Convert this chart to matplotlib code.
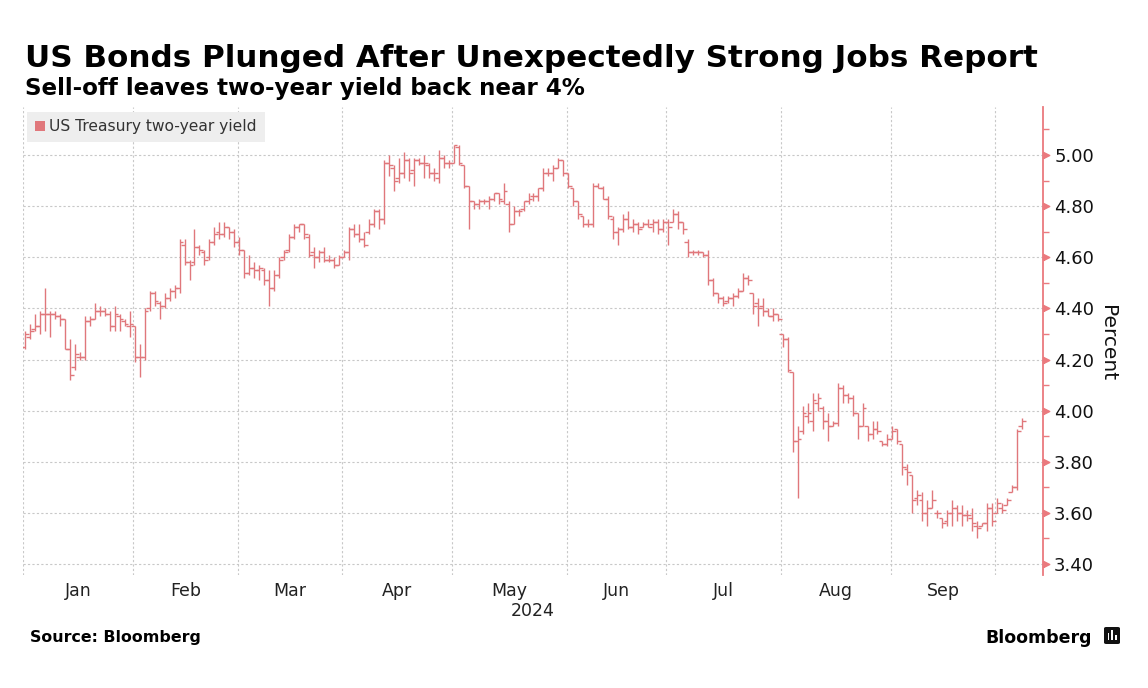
import numpy as np
import pandas as pd
import matplotlib
matplotlib.use('Agg')
import matplotlib.pyplot as plt
from matplotlib.patches import Rectangle, FancyBboxPatch

# weekday calendar, Jan 1 - Oct 7 2024 (one bar per weekday)
dates = pd.bdate_range('2024-01-01', '2024-10-07')

# OHLC of the US 2-year yield
opens = [
    4.25, 4.29, 4.32, 4.33, 4.38, 4.38, 4.38, 4.37, 4.36, 4.24, 4.17, 4.21, 4.21, 4.35, 4.36, 4.39, 4.39, 4.38, 4.33, 4.37, 4.35, 4.33, 4.33,  # jan
    4.21, 4.21, 4.40, 4.46, 4.42, 4.41, 4.44, 4.47, 4.48, 4.65, 4.58, 4.58, 4.64, 4.62, 4.60, 4.66, 4.70, 4.69, 4.72, 4.70, 4.66,  # feb
    4.63, 4.54, 4.56, 4.55, 4.55, 4.51, 4.48, 4.53, 4.60, 4.63, 4.68, 4.72, 4.73, 4.68, 4.62, 4.60, 4.62, 4.59, 4.59, 4.57, 4.60,  # mar
    4.62, 4.71, 4.69, 4.67, 4.70, 4.73, 4.78, 4.75, 4.97, 4.95, 4.91, 4.93, 4.98, 4.94, 4.98, 4.97, 4.96, 4.93, 4.91, 4.99, 4.97, 4.97,  # apr
    5.03, 4.96, 4.88, 4.82, 4.81, 4.82, 4.82, 4.83, 4.85, 4.82, 4.81, 4.73, 4.78, 4.79, 4.82, 4.84, 4.84, 4.87, 4.93, 4.93, 4.95, 4.98, 4.93,  # may
    4.87, 4.82, 4.76, 4.73, 4.73, 4.88, 4.87, 4.83, 4.75, 4.70, 4.71, 4.75, 4.72, 4.73, 4.72, 4.73, 4.73, 4.74, 4.71, 4.74,  # jun
    4.74, 4.77, 4.74, 4.66, 4.62, 4.62, 4.62, 4.61, 4.51, 4.46, 4.44, 4.43, 4.44, 4.45, 4.47, 4.52, 4.46, 4.42, 4.41, 4.39, 4.37, 4.38, 4.30,  # jul
    4.28, 4.15, 3.88, 3.92, 3.98, 3.96, 4.03, 4.01, 3.96, 3.94, 3.95, 4.09, 4.06, 4.05, 3.99, 3.94, 3.94, 3.91, 3.93, 3.88, 3.87, 3.89,  # aug
    3.93, 3.87, 3.77, 3.75, 3.66, 3.65, 3.60, 3.62, 3.60, 3.58, 3.57, 3.60, 3.62, 3.60, 3.59, 3.58, 3.55, 3.55, 3.56, 3.62, 3.60,  # sep
    3.62, 3.63, 3.68, 3.70, 3.94,  # oct
]
highs = [
    4.31, 4.34, 4.38, 4.39, 4.48, 4.39, 4.39, 4.38, 4.36, 4.28, 4.26, 4.23, 4.37, 4.37, 4.42, 4.41, 4.40, 4.39, 4.41, 4.38, 4.36, 4.39, 4.33,
    4.26, 4.40, 4.47, 4.47, 4.43, 4.46, 4.48, 4.49, 4.67, 4.67, 4.59, 4.71, 4.65, 4.63, 4.67, 4.72, 4.74, 4.74, 4.72, 4.71, 4.68,
    4.63, 4.61, 4.58, 4.57, 4.56, 4.55, 4.55, 4.60, 4.63, 4.69, 4.73, 4.73, 4.73, 4.69, 4.64, 4.63, 4.64, 4.61, 4.60, 4.61, 4.63,
    4.72, 4.73, 4.73, 4.70, 4.75, 4.79, 4.79, 4.98, 5.00, 4.96, 4.99, 5.01, 4.99, 4.99, 4.99, 5.00, 4.97, 4.95, 5.02, 5.00, 4.98, 5.04,
    5.04, 4.96, 4.88, 4.82, 4.83, 4.83, 4.84, 4.85, 4.85, 4.89, 4.82, 4.80, 4.79, 4.82, 4.85, 4.85, 4.87, 4.95, 4.95, 4.96, 4.99, 4.98, 4.93,
    4.87, 4.82, 4.76, 4.75, 4.89, 4.89, 4.88, 4.84, 4.76, 4.72, 4.77, 4.78, 4.75, 4.74, 4.74, 4.75, 4.75, 4.75, 4.75, 4.75,
    4.79, 4.78, 4.74, 4.67, 4.63, 4.63, 4.62, 4.63, 4.52, 4.46, 4.45, 4.45, 4.46, 4.48, 4.54, 4.53, 4.46, 4.44, 4.44, 4.40, 4.40, 4.38, 4.30,
    4.29, 4.15, 3.94, 4.02, 4.03, 4.07, 4.07, 4.02, 3.99, 3.96, 4.11, 4.10, 4.07, 4.06, 3.99, 4.03, 3.94, 3.96, 3.96, 3.88, 3.91, 3.94,
    3.93, 3.87, 3.79, 3.75, 3.69, 3.68, 3.65, 3.69, 3.61, 3.58, 3.61, 3.65, 3.63, 3.63, 3.61, 3.62, 3.57, 3.56, 3.64, 3.64, 3.66,
    3.64, 3.66, 3.71, 3.93, 3.97,
]
lows = [
    4.24, 4.28, 4.31, 4.30, 4.31, 4.29, 4.36, 4.33, 4.24, 4.12, 4.16, 4.20, 4.20, 4.33, 4.36, 4.37, 4.37, 4.31, 4.31, 4.31, 4.33, 4.29, 4.19,
    4.13, 4.20, 4.39, 4.41, 4.36, 4.40, 4.43, 4.44, 4.46, 4.57, 4.51, 4.57, 4.61, 4.57, 4.59, 4.65, 4.67, 4.68, 4.67, 4.64, 4.61,
    4.52, 4.53, 4.52, 4.51, 4.49, 4.41, 4.47, 4.52, 4.59, 4.62, 4.67, 4.70, 4.67, 4.60, 4.56, 4.58, 4.58, 4.58, 4.56, 4.57, 4.60,
    4.59, 4.68, 4.66, 4.64, 4.69, 4.72, 4.71, 4.73, 4.92, 4.86, 4.89, 4.91, 4.90, 4.88, 4.96, 4.91, 4.91, 4.90, 4.89, 4.95, 4.95, 4.97,
    4.96, 4.87, 4.71, 4.79, 4.79, 4.81, 4.79, 4.82, 4.81, 4.81, 4.70, 4.73, 4.76, 4.78, 4.81, 4.82, 4.82, 4.86, 4.92, 4.90, 4.95, 4.92, 4.87,
    4.80, 4.75, 4.72, 4.72, 4.72, 4.87, 4.83, 4.75, 4.67, 4.65, 4.70, 4.71, 4.70, 4.69, 4.72, 4.72, 4.70, 4.69, 4.70, 4.65,
    4.74, 4.71, 4.69, 4.60, 4.61, 4.61, 4.60, 4.49, 4.45, 4.42, 4.41, 4.42, 4.41, 4.44, 4.47, 4.49, 4.38, 4.33, 4.37, 4.37, 4.35, 4.35, 4.25,
    4.15, 3.84, 3.66, 3.91, 3.95, 3.92, 4.00, 3.93, 3.88, 3.94, 3.94, 4.03, 4.03, 3.98, 3.89, 3.94, 3.88, 3.89, 3.91, 3.86, 3.86, 3.89,
    3.87, 3.75, 3.71, 3.60, 3.63, 3.57, 3.55, 3.62, 3.58, 3.54, 3.55, 3.55, 3.57, 3.55, 3.57, 3.53, 3.50, 3.55, 3.53, 3.55, 3.60,
    3.60, 3.63, 3.68, 3.69, 3.93,
]
closes = [
    4.30, 4.31, 4.33, 4.38, 4.38, 4.38, 4.37, 4.36, 4.24, 4.14, 4.22, 4.21, 4.35, 4.36, 4.39, 4.39, 4.38, 4.33, 4.38, 4.36, 4.34, 4.34, 4.21,
    4.21, 4.39, 4.46, 4.43, 4.41, 4.44, 4.47, 4.48, 4.66, 4.58, 4.57, 4.64, 4.63, 4.59, 4.66, 4.69, 4.69, 4.72, 4.70, 4.66, 4.63,
    4.54, 4.56, 4.55, 4.56, 4.51, 4.48, 4.53, 4.59, 4.62, 4.68, 4.72, 4.73, 4.69, 4.61, 4.60, 4.62, 4.59, 4.59, 4.57, 4.60, 4.62,
    4.71, 4.69, 4.67, 4.65, 4.73, 4.78, 4.75, 4.97, 4.96, 4.90, 4.93, 4.98, 4.93, 4.98, 4.97, 4.97, 4.93, 4.93, 4.99, 4.97, 4.97, 5.04,
    4.97, 4.88, 4.82, 4.81, 4.82, 4.82, 4.83, 4.85, 4.83, 4.86, 4.73, 4.78, 4.78, 4.82, 4.83, 4.84, 4.87, 4.93, 4.93, 4.95, 4.98, 4.93, 4.88,
    4.82, 4.77, 4.73, 4.73, 4.88, 4.87, 4.83, 4.76, 4.70, 4.71, 4.75, 4.72, 4.73, 4.71, 4.73, 4.72, 4.74, 4.71, 4.74, 4.72,
    4.77, 4.74, 4.71, 4.62, 4.62, 4.62, 4.61, 4.51, 4.46, 4.44, 4.42, 4.44, 4.45, 4.47, 4.52, 4.51, 4.41, 4.40, 4.39, 4.37, 4.38, 4.36, 4.28,
    4.16, 3.88, 3.89, 3.99, 3.99, 4.04, 4.05, 3.96, 3.94, 3.95, 4.09, 4.06, 4.05, 3.99, 3.94, 4.01, 3.91, 3.93, 3.92, 3.87, 3.89, 3.92,
    3.88, 3.78, 3.76, 3.65, 3.67, 3.60, 3.62, 3.65, 3.60, 3.56, 3.60, 3.62, 3.60, 3.59, 3.59, 3.56, 3.54, 3.56, 3.62, 3.57, 3.64,
    3.61, 3.65, 3.70, 3.92, 3.96,
]

title = "US Bonds Plunged After Unexpectedly Strong Jobs Report"
subtitle = "Sell-off leaves two-year yield back near 4%"
series_name = "US Treasury two-year yield"
yticks = np.arange(3.4, 5.01, 0.2)

RED = '#e0777b'
SPINE = '#ea7a7e'
GRID = '#c8c8c8'

W, H = 1148, 688
fig = plt.figure(figsize=(W / 100, H / 100), dpi=100)
ax = fig.add_axes([23 / W, 1 - 575 / H, (1043 - 23) / W, (575 - 107) / H])

def P(px, py):
    return px / W, 1 - py / H

def fit_text(px, py, s, width_px, **kw):
    t = fig.text(*P(px, py), s, **kw)
    r = fig.canvas.get_renderer()
    w = t.get_window_extent(r).width
    t.set_fontsize(t.get_fontsize() * width_px / w)
    return t

x = np.arange(len(dates))
tick = 0.75
ax.vlines(x, lows, highs, color=RED, lw=1.0, zorder=3)
ax.hlines(opens, x - tick, x, color=RED, lw=1.0, zorder=3)
ax.hlines(closes, x, x + tick, color=RED, lw=1.0, zorder=3)

xmin, xmax = -0.4, 204.2
ax.set_xlim(xmin, xmax)
ax.set_ylim(3.357, 5.188)

# month boundaries
starts = np.array([np.argmax(dates.month == m) for m in range(1, 11)])
bounds = np.maximum(starts - 1.35, xmin)
mids = (bounds[:-1] + bounds[1:]) / 2
months = [d.strftime('%b') for d in pd.date_range('2024-01-01', periods=9, freq='MS')]

ax.set_xticks(bounds)
ax.set_xticklabels([])
ax.set_xticks(mids, minor=True)
ax.set_xticklabels(months, minor=True)
ax.tick_params(axis='x', which='major', length=0)
ax.tick_params(axis='x', which='minor', length=0, pad=5, labelsize=12.5, labelcolor='#222222')

ax.yaxis.tick_right()
ax.set_yticks(yticks)
ax.set_yticklabels([f'{v:.2f}' for v in yticks])
ax.set_yticks(np.arange(3.5, 5.15, 0.2), minor=True)
ax.tick_params(axis='y', which='major', length=0, pad=8, labelsize=13, labelcolor='#111111')
ax.tick_params(axis='y', which='minor', length=4, width=1, color=SPINE, direction='out')

ax.grid(True, which='major', color=GRID, lw=0.8, ls=(0, (2, 2)))
ax.set_axisbelow(True)
for s in ['left', 'top', 'bottom']:
    ax.spines[s].set_visible(False)
ax.spines['right'].set_color(SPINE)
ax.spines['right'].set_linewidth(1.3)

# triangular major ticks on the right spine
tri = [(0, -1), (2, 0), (0, 1), (0, -1)]
ax.plot(np.ones(len(yticks)), yticks, ls='none', marker=tri, ms=9, color=SPINE,
        transform=ax.get_yaxis_transform(), clip_on=False, zorder=5)

fig.text(*P(1107, 343), 'Percent', rotation=270, ha='center', va='center', fontsize=14.5, color='#111111')
fig.text(*P(533, 611), '2024', ha='center', va='center', fontsize=12.5, color='#222222')

# legend box
fig.patches.append(Rectangle(P(27, 142), (265 - 27) / W, 30 / H, transform=fig.transFigure,
                             facecolor='#eeeeee', edgecolor='none'))
fig.patches.append(Rectangle(P(35, 131), 10 / W, 10 / H, transform=fig.transFigure,
                             facecolor=RED, edgecolor='none'))
fit_text(49, 127, series_name, 209, va='center', fontsize=11, color='#333333')

fit_text(25, 67, title, 1008, fontweight='bold', va='baseline', fontsize=22, color='#000000')
fit_text(25, 95, subtitle, 562, fontweight='bold', va='baseline', fontsize=16, color='#000000')
fit_text(30, 642, 'Source: Bloomberg', 170, fontweight='bold', va='baseline', fontsize=11, color='#000000')
fit_text(985, 643, 'Bloomberg', 107, fontweight='bold', va='baseline', fontsize=14, color='#000000')

# small logo glyph next to the wordmark
fig.patches.append(FancyBboxPatch(P(1104, 644), 16 / W, 17 / H, boxstyle='round,pad=0,rounding_size=0.002',
                                  transform=fig.transFigure, facecolor='#111111', edgecolor='none'))
for bx, bh in [(1107.5, 7), (1111.2, 10), (1114.8, 5)]:
    fig.patches.append(Rectangle(P(bx, 640), 1.8 / W, bh / H, transform=fig.transFigure,
                                 facecolor='white', edgecolor='none'))

fig.savefig('out.png', dpi=100)
